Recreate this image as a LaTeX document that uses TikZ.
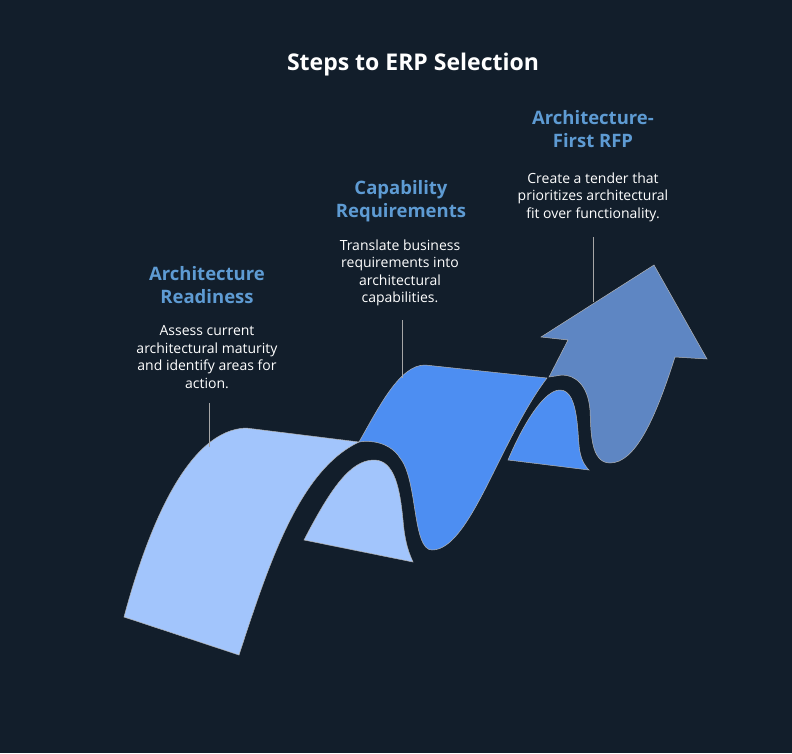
\documentclass[tikz,border=0pt]{standalone}
\usepackage{fontspec}
\setmainfont{Open Sans}
\begin{document}
\begin{tikzpicture}[x=1pt,y=-1pt,
  head/.style={text=headc,font=\fontsize{18.5}{23}\selectfont\bfseries,align=center},
  body/.style={text=white,font=\fontsize{14}{17.5}\selectfont,align=center},
  lead/.style={draw=gray!70,line width=0.6pt},
  rib/.style={draw=gray!60,line width=0.5pt}]
\definecolor{bg}{HTML}{121E2B}
\definecolor{headc}{HTML}{5E9BD3}
\definecolor{lightb}{HTML}{A2C5FC}
\definecolor{midb}{HTML}{4D8EF2}
\definecolor{arrb}{HTML}{5E86C3}
\fill[bg] (0,0) rectangle (792,753);
\useasboundingbox (0,0) rectangle (792,753);
\node[text=white,font=\fontsize{23}{26}\selectfont\bfseries] (title) at (413,65) {Steps to ERP Selection};
% back pieces
\fill[lightb,rib] (304,540) .. controls (330,490) and (350,460) .. (374,460) .. controls (395,460) and (400,490) .. (403,520) .. controls (405,545) and (410,555) .. (413,562) -- cycle;
\fill[midb,rib] (508,460) .. controls (525,420) and (545,390) .. (560,390) .. controls (580,390) and (577,440) .. (580,452) .. controls (582,462) and (586,467) .. (589,470) -- cycle;
% arrow
\fill[arrb,rib] (549,377) -- (568,340) -- (541,337) -- (654,265) -- (707,359) -- (675,357) .. controls (655,420) and (635,463) .. (610,463) .. controls (590,463) and (591,430) .. (590,410) .. controls (588,385) and (575,375) .. (562,375) -- cycle;
% piece 2
\fill[midb,rib] (359,442) .. controls (380,405) and (400,365) .. (425,365) -- (547,378) .. controls (500,440) and (470,550) .. (432,550) .. controls (412,550) and (418,480) .. (400,458) .. controls (390,442) and (370,440) .. (359,442) -- cycle;
% piece 1
\fill[lightb,rib] (124,617) .. controls (150,520) and (190,430) .. (246,428) -- (359,442) .. controls (300,470) and (270,560) .. (239,655) -- cycle;
% leaders
\coordinate (l1a) at (209,403); \coordinate (l1b) at (209,447);
\coordinate (l2a) at (402,320); \coordinate (l2b) at (402,378);
\coordinate (l3a) at (593,237); \coordinate (l3b) at (593,302);
\draw[lead] (l1a) -- (l1b); \draw[lead] (l2a) -- (l2b); \draw[lead] (l3a) -- (l3b);
% texts
\node[head] (h1) at (207,285) {Architecture\\Readiness};
\node[body] (b1) at (207,357) {Assess current\\architectural maturity\\and identify areas for\\action.};
\node[head] (h2) at (401,201) {Capability\\Requirements};
\node[body] (b2) at (400,273) {Translate business\\requirements into\\architectural\\capabilities.};
\node[head] (h3) at (593,129) {Architecture-\\First RFP};
\node[body] (b3) at (593,197) {Create a tender that\\prioritizes architectural\\fit over functionality.};
\end{tikzpicture}
\end{document}
